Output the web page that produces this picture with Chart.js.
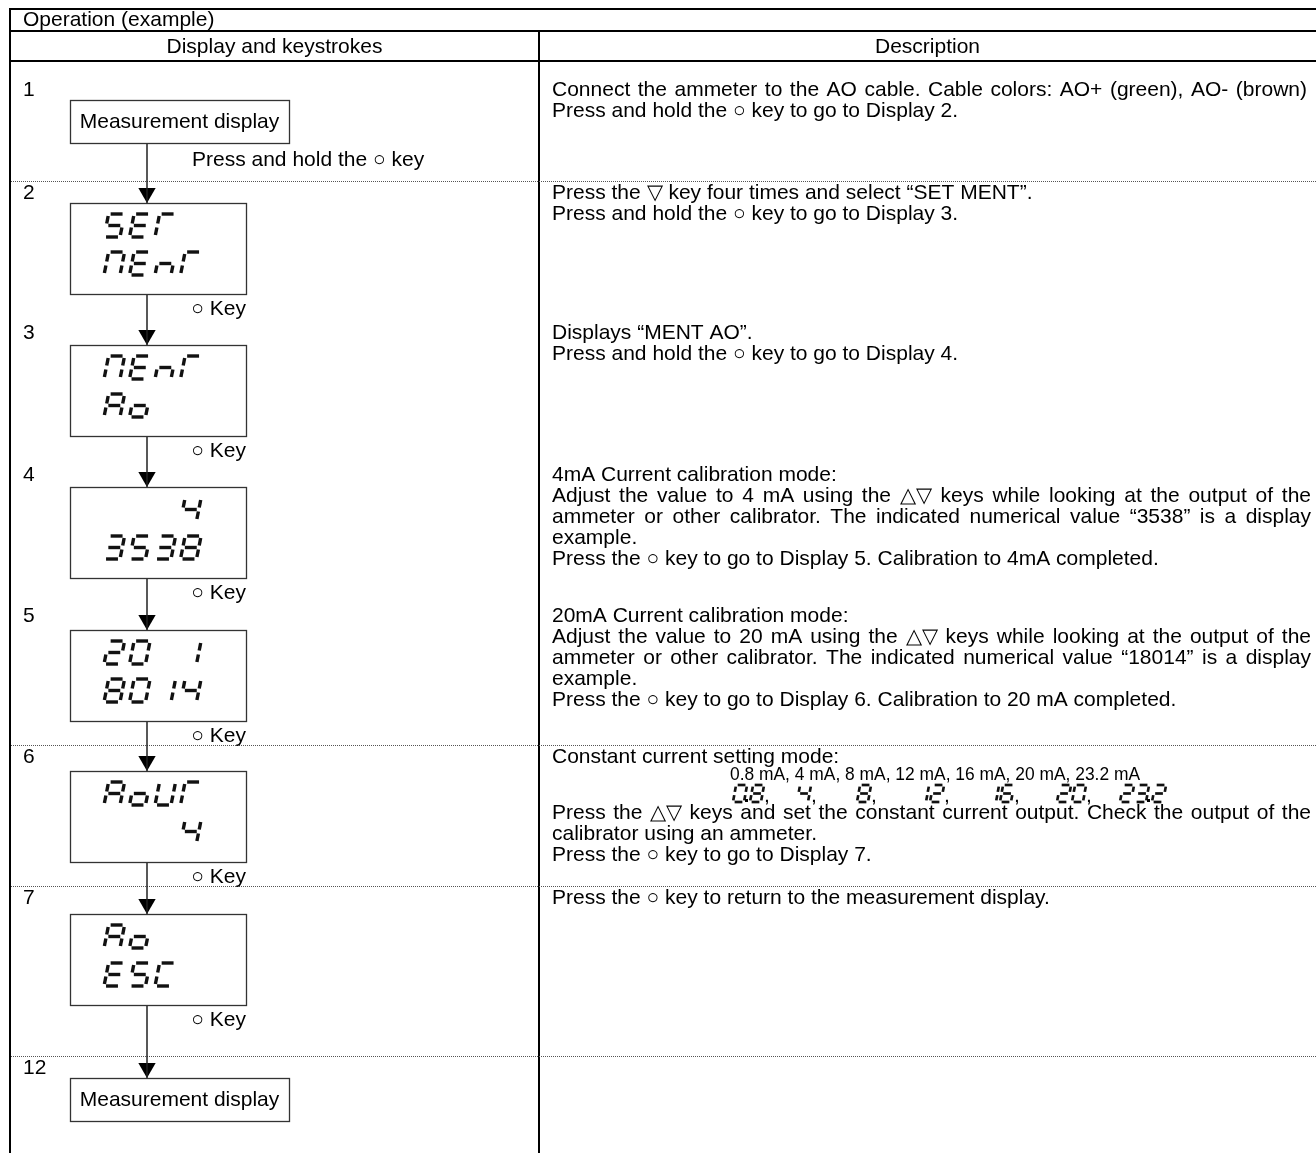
<!DOCTYPE html>
<html>
<head>
<meta charset="utf-8">
<script src="https://cdn.jsdelivr.net/npm/chart.js@4.4.1/dist/chart.umd.min.js"></script>
<style>
  html, body { margin: 0; padding: 0; background: #fff; }
  #wrap { width: 1316px; height: 1153px; }
</style>
</head>
<body>
<div id="wrap"><canvas id="sheet" width="1316" height="1153"></canvas></div>
<script>
// table content
const title = 'Operation (example)';
const headers = ['Display and keystrokes', 'Description'];
const stepNumbers = ['1', '2', '3', '4', '5', '6', '7', '12'];
const displayLines = [
    null,
    ['SET ', 'MENT'],
    ['MENT', 'Ao  '],
    ['   4', '3538'],
    ['20 1', '8014'],
    ['AoUT', '   4'],
    ['Ao  ', 'ESC '],
    null,
];
const keyLabels = ['Press and hold the ○ key', '○ Key', '○ Key', '○ Key', '○ Key', '○ Key', '○ Key', null];
const endLabel = 'Measurement display';
const descriptions = [
    ['Connect the ammeter to the AO cable. Cable colors: AO+ (green), AO- (brown)',
     'Press and hold the ○ key to go to Display 2.'],
    ['Press the ▽ key four times and select “SET MENT”.',
     'Press and hold the ○ key to go to Display 3.'],
    ['Displays “MENT AO”.',
     'Press and hold the ○ key to go to Display 4.'],
    ['4mA Current calibration mode:',
     'Adjust the value to 4 mA using the △▽ keys while looking at the output of the',
     'ammeter or other calibrator. The indicated numerical value “3538” is a display',
     'example.',
     'Press the ○ key to go to Display 5. Calibration to 4mA completed.'],
    ['20mA Current calibration mode:',
     'Adjust the value to 20 mA using the △▽ keys while looking at the output of the',
     'ammeter or other calibrator. The indicated numerical value “18014” is a display',
     'example.',
     'Press the ○ key to go to Display 6. Calibration to 20 mA completed.'],
    ['Constant current setting mode:',
     null,
     null,
     'Press the △▽ keys and set the constant current output. Check the output of the',
     'calibrator using an ammeter.',
     'Press the ○ key to go to Display 7.'],
    ['Press the ○ key to return to the measurement display.'],
    [],
];
const currentLabels = '0.8 mA, 4 mA, 8 mA, 12 mA, 16 mA, 20 mA, 23.2 mA';
const currentValues = ['0.8', '4', '8', '12', '16', '20', '23.2'];

// layout (pixels of the 1316 x 1153 sheet)
const W = 1316, H = 1153;
const LEFT = 10, DIVIDER = 539, TEXT_X = 552, TEXT_R = 1311;
const TITLE_LINE = 31, HEADER_LINE = 61;
const ROW_TOP = [61, 181, 321, 463, 604, 745, 886, 1056];
const BOX_TOP = [100, 203, 345, 487, 630, 771, 914, 1078];
const DOTTED = [181, 745, 886, 1056];
const ARROW_X = 147;
const BOX_L = 70, DISPLAY_R = 246, PLAIN_R = 289;
const SEG_X = 104, SEG_PITCH = 25.5;
const JUSTIFIED = { 0: [0], 3: [1, 2], 4: [1, 2], 5: [3] };
const JUSTIFY_R = { 0: 1307 };
const CURRENT_X = [733, 797, 857, 915, 985, 1057, 1120];
const CURRENT_W = 410;
const FONT = '21px "Liberation Sans", Arial, sans-serif';
const SMALL_FONT = '19px "Liberation Sans", Arial, sans-serif';

const SEGMENTS = {
    '0': 'abcdef', '1': 'bc', '2': 'abdeg', '3': 'abcdg', '4': 'bcfg', '5': 'acdfg',
    '6': 'acdefg', '7': 'abc', '8': 'abcdefg', '9': 'abcdfg',
    'A': 'abcefg', 'o': 'cdeg', 'U': 'bcdef', 'T': 'aef', 'S': 'acdfg', 'E': 'adefg',
    'M': 'abcef', 'N': 'ceg', 'C': 'adef', ' ': '',
};

function boxHeight(i) {
    return displayLines[i] ? 91 : 43;
}

function drawSegChar(ctx, ch, x, y, w, h, t, slant) {
    const g = t * 0.6;
    const seg = {
        a: [g, 0, w - g, 0],
        b: [w, g, w, h / 2 - g],
        c: [w, h / 2 + g, w, h - g],
        d: [g, h, w - g, h],
        e: [0, h / 2 + g, 0, h - g],
        f: [0, g, 0, h / 2 - g],
        g: [g, h / 2, w - g, h / 2],
    };
    const sx = (lx, ly) => x + lx + (h - ly) * slant;
    ctx.lineWidth = t;
    ctx.lineCap = 'butt';
    for (const s of (SEGMENTS[ch] || '')) {
        const p = seg[s];
        ctx.beginPath();
        ctx.moveTo(sx(p[0], p[1]), y + p[1]);
        ctx.lineTo(sx(p[2], p[3]), y + p[3]);
        ctx.stroke();
    }
}

function drawJustified(ctx, text, x, y, width) {
    const words = text.split(' ');
    const total = words.reduce((s, w) => s + ctx.measureText(w).width, 0);
    const gap = (width - total) / (words.length - 1);
    let cx = x;
    words.forEach(w => {
        ctx.fillText(w, cx, y);
        cx += ctx.measureText(w).width + gap;
    });
}

const connector = [
    { x: ARROW_X, y: BOX_TOP[0] + boxHeight(0) },
    { x: ARROW_X, y: BOX_TOP[BOX_TOP.length - 1] },
];
const arrowTips = BOX_TOP.slice(1).map(t => ({ x: ARROW_X, y: t - 10 }));

const tablePlugin = {
    id: 'operationTable',
    beforeDatasetsDraw(chart) {
        const ctx = chart.ctx;
        const px = v => chart.scales.x.getPixelForValue(v);
        const py = v => chart.scales.y.getPixelForValue(v);
        const line = (x1, y1, x2, y2) => {
            ctx.beginPath();
            ctx.moveTo(px(x1), py(y1));
            ctx.lineTo(px(x2), py(y2));
            ctx.stroke();
        };
        ctx.save();
        ctx.strokeStyle = '#000';
        ctx.lineWidth = 2;
        line(LEFT, 9, W, 9);
        line(LEFT, TITLE_LINE, W, TITLE_LINE);
        line(LEFT, HEADER_LINE, W, HEADER_LINE);
        line(LEFT, 8, LEFT, H);
        line(DIVIDER, TITLE_LINE, DIVIDER, H);
        ctx.lineWidth = 1;
        ctx.strokeStyle = '#555';
        ctx.setLineDash([1, 1]);
        DOTTED.forEach(y => line(LEFT + 1, y + 0.5, W, y + 0.5));
        ctx.restore();
    },
    afterDatasetsDraw(chart) {
        const ctx = chart.ctx;
        const px = v => chart.scales.x.getPixelForValue(v);
        const py = v => chart.scales.y.getPixelForValue(v);
        ctx.save();
        ctx.fillStyle = '#000';
        ctx.font = FONT;
        ctx.textBaseline = 'middle';
        ctx.textAlign = 'left';
        ctx.fillText(title, px(23), py(20));
        ctx.textAlign = 'center';
        ctx.fillText(headers[0], px((LEFT + DIVIDER) / 2), py(47));
        ctx.fillText(headers[1], px((DIVIDER + W) / 2), py(47));

        stepNumbers.forEach((num, i) => {
            const firstY = ROW_TOP[i] + (i === 0 ? 29 : 12);
            ctx.textAlign = 'left';
            ctx.fillStyle = '#000';
            ctx.fillText(num, px(23), py(firstY));

            // box
            const top = BOX_TOP[i];
            const bh = boxHeight(i);
            const right = displayLines[i] ? DISPLAY_R : PLAIN_R;
            ctx.fillStyle = '#fff';
            ctx.fillRect(px(BOX_L), py(top), right - BOX_L, bh);
            ctx.strokeStyle = '#333';
            ctx.lineWidth = 1.3;
            ctx.strokeRect(px(BOX_L) + 0.5, py(top) + 0.5, right - BOX_L, bh);
            ctx.fillStyle = '#000';
            if (displayLines[i]) {
                ctx.strokeStyle = '#111';
                displayLines[i].forEach((txt, r) => {
                    [...txt].forEach((ch, k) => {
                        drawSegChar(ctx, ch, px(SEG_X + k * SEG_PITCH), py(top + (r === 0 ? 11 : 49)), 16, 23, 3.4, 0.2);
                    });
                });
            } else {
                ctx.textAlign = 'center';
                ctx.fillText(endLabel, px((BOX_L + right) / 2), py(top + bh / 2 + 1));
            }

            // key label
            if (keyLabels[i]) {
                if (i === 0) {
                    ctx.textAlign = 'left';
                    ctx.fillText(keyLabels[i], px(192), py(160));
                } else {
                    ctx.textAlign = 'right';
                    ctx.fillText(keyLabels[i], px(246), py(top + bh + 15));
                }
            }

            // description
            ctx.textAlign = 'left';
            descriptions[i].forEach((txt, j) => {
                let y = firstY + j * 21;
                if (i === 5 && j >= 3) y -= 7;
                if (txt === null) {
                    if (j === 1) {
                        ctx.save();
                        ctx.font = SMALL_FONT;
                        const natural = ctx.measureText(currentLabels).width;
                        ctx.translate(px(730), py(y - 3));
                        ctx.scale(CURRENT_W / natural, 1);
                        ctx.fillText(currentLabels, 0, 0);
                        ctx.restore();
                    } else {
                        const segTop = firstY + 28;
                        ctx.strokeStyle = '#111';
                        currentValues.forEach((v, n) => {
                            let cx = CURRENT_X[n];
                            for (const ch of v) {
                                if (ch === '.') {
                                    ctx.fillRect(px(cx - 3), py(segTop + 14), 3, 3);
                                    cx += 2;
                                    continue;
                                }
                                drawSegChar(ctx, ch, px(cx), py(segTop), 11, 17, 2.7, 0.18);
                                cx += 15;
                            }
                            if (n < currentValues.length - 1) {
                                ctx.fillText(',', px(cx - 1), py(segTop + 11));
                            }
                        });
                    }
                    return;
                }
                if (JUSTIFIED[i] && JUSTIFIED[i].includes(j)) {
                    const r = JUSTIFY_R[i] || TEXT_R;
                    drawJustified(ctx, txt, px(TEXT_X), py(y), r - TEXT_X);
                } else {
                    ctx.fillText(txt, px(TEXT_X), py(y));
                }
            });
        });
        ctx.restore();
    },
};

new Chart(document.getElementById('sheet').getContext('2d'), {
    type: 'scatter',
    data: {
        datasets: [
            {
                label: 'connector',
                data: connector,
                showLine: true,
                borderColor: '#222',
                borderWidth: 1.5,
                pointRadius: 0,
            },
            {
                label: 'arrows',
                data: arrowTips,
                pointStyle: 'triangle',
                rotation: 180,
                pointRadius: 10,
                backgroundColor: '#000',
                borderWidth: 0,
            },
        ],
    },
    options: {
        responsive: false,
        animation: false,
        events: [],
        layout: { padding: 0, autoPadding: false },
        plugins: {
            legend: { display: false },
            tooltip: { enabled: false },
        },
        scales: {
            x: { type: 'linear', min: 0, max: W, display: false },
            y: { type: 'linear', min: 0, max: H, reverse: true, display: false },
        },
    },
    plugins: [tablePlugin],
});
</script>
</body>
</html>
